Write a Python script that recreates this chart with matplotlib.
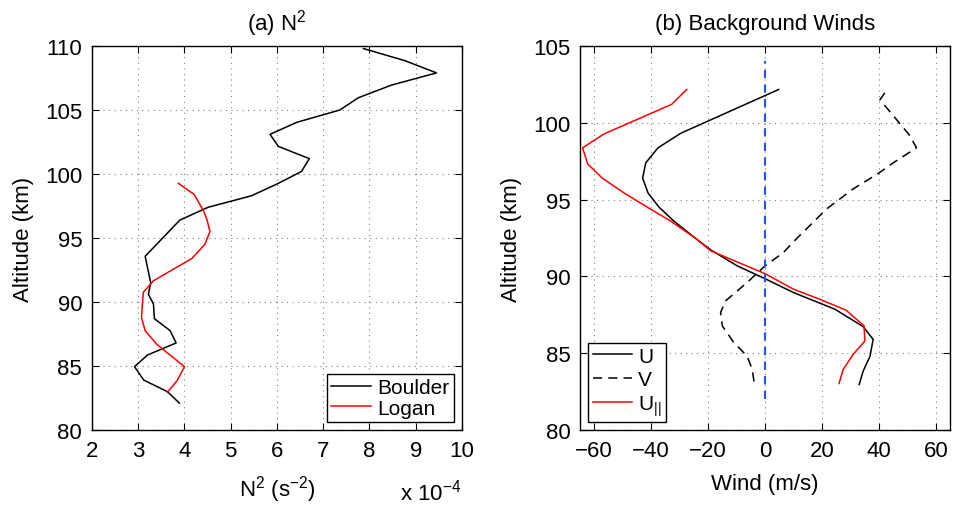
import matplotlib.pyplot as plt

plt.rcParams['font.family'] = ['Liberation Sans', 'DejaVu Sans']
plt.rcParams['mathtext.default'] = 'regular'
plt.rcParams['font.size'] = 16

# (a) N^2 profiles, x in units of 1e-4 s^-2
boulder_n2 = [7.87, 8.77, 9.45, 8.48, 7.76, 7.36, 6.43, 5.85, 6.03, 6.70, 6.53, 6.03,
              5.45, 4.51, 3.90, 3.15, 3.27, 3.22, 3.33, 3.35, 3.69, 3.82, 3.20, 2.92,
              3.12, 3.63, 3.89]
boulder_alt = [109.8, 108.85, 107.9, 106.95, 105.96, 105.0, 104.04, 103.1, 102.16, 101.2,
               100.2, 99.27, 98.3, 97.4, 96.4, 93.57, 91.5, 90.6, 89.84, 88.7, 87.76,
               86.8, 85.86, 84.95, 83.9, 83.0, 82.1]
logan_n2 = [3.87, 4.21, 4.41, 4.49, 4.55, 4.44, 4.16, 3.33, 3.11, 3.07, 3.15, 3.40,
            4.00, 3.84, 3.63]
logan_alt = [99.27, 98.4, 97.13, 96.4, 95.5, 94.5, 93.4, 91.66, 90.76, 88.8, 87.76,
             86.7, 84.95, 83.85, 82.95]

# (b) background winds (m/s)
u_wind = [4.8, -29.6, -37.6, -41.9, -43.0, -41.1, -37.2, -32.0, -24.4, -19.1, -9.8,
          -0.2, 10.0, 24.6, 34.5, 38.0, 36.9, 34.5, 33.1]
u_alt = [102.17, 99.32, 98.37, 97.39, 96.4, 95.43, 94.5, 93.6, 92.48, 91.73, 90.69,
         89.87, 88.95, 87.86, 86.73, 85.9, 84.8, 83.84, 82.96]
v_wind = [42.1, 40.4, 50.9, 53.2, 45.0, 39.8, 31.0, 21.7, 11.2, 6.5, -0.2, -6.3,
          -13.9, -15.6, -15.0, -11.0, -6.3, -4.5, -3.7]
v_alt = [101.95, 101.5, 99.17, 98.37, 97.39, 96.7, 95.7, 94.4, 92.48, 91.56, 90.65,
         89.6, 88.4, 87.65, 86.78, 85.7, 84.82, 83.95, 82.96]
upar_wind = [-27.5, -32.8, -56.5, -64.1, -62.3, -57.1, -49.5, -41.3, -33.1, -24.4,
             -19.1, 0.0, 10.0, 19.4, 28.5, 34.8, 35.1, 31.0, 27.5, 26.0]
upar_alt = [102.17, 101.2, 99.28, 98.37, 97.32, 96.39, 95.43, 94.5, 93.6, 92.48,
            91.67, 90.18, 89.17, 88.5, 87.8, 86.78, 85.8, 84.93, 83.95, 83.03]
zero_line_alt = [82, 104]


def style_axes(ax):
    ax.tick_params(direction='in', top=True, right=True, length=5, width=0.8, pad=7)
    ax.grid(True, color='gray', linestyle=(0, (1, 4)), linewidth=0.8)
    for s in ax.spines.values():
        s.set_linewidth(1.0)


def add_legend(ax, loc, spacing):
    leg = ax.legend(loc=loc, fancybox=False, edgecolor='black', framealpha=1,
                    fontsize=15, borderaxespad=0.4, handlelength=1.9,
                    labelspacing=spacing, borderpad=0.2, handletextpad=0.3)
    leg.get_frame().set_linewidth(1.0)


fig = plt.figure(figsize=(9.59, 5.06), dpi=100)
ax1 = fig.add_axes([0.0959, 0.1482, 0.3858, 0.7589])
ax2 = fig.add_axes([0.6048, 0.1482, 0.3858, 0.7589])

ax1.plot(boulder_n2, boulder_alt, color='black', lw=1.1, label='Boulder')
ax1.plot(logan_n2, logan_alt, color='red', lw=1.1, label='Logan')
ax1.set_xlim(2, 10)
ax1.set_ylim(80, 110)
ax1.set_xticks(range(2, 11))
ax1.set_yticks(range(80, 111, 5))
style_axes(ax1)
ax1.set_title('(a) N$^2$', fontsize=16, pad=12)
ax1.set_ylabel('Altitude (km)', labelpad=8)
ax1.set_xlabel('N$^2$ (s$^{-2}$)', labelpad=9)
ax1.text(1.0, -0.16, 'x 10$^{-4}$', transform=ax1.transAxes, ha='right', va='center')
add_legend(ax1, 'lower right', 0.05)

ax2.plot(u_wind, u_alt, color='black', lw=1.1, label='U')
ax2.plot(v_wind, v_alt, color='black', lw=1.1, ls=(0, (6, 4)), label='V')
ax2.plot(upar_wind, upar_alt, color='red', lw=1.1, label='U$_{||}$')
ax2.plot([0, 0], zero_line_alt, color='#2255ee', lw=1.5, ls=(0, (4, 3)))
ax2.set_xlim(-65, 65)
ax2.set_ylim(80, 105)
ax2.set_xticks(range(-60, 61, 20))
ax2.set_yticks(range(80, 106, 5))
ax2.set_xticklabels(['\u221260', '\u221240', '\u221220', '0', '20', '40', '60'])
style_axes(ax2)
ax2.set_title('(b) Background Winds', fontsize=16, pad=12)
ax2.set_ylabel('Altitude (km)', labelpad=8)
ax2.set_xlabel('Wind (m/s)', labelpad=9)
add_legend(ax2, 'lower left', 0.2)

fig.savefig('out.png', dpi=100)
